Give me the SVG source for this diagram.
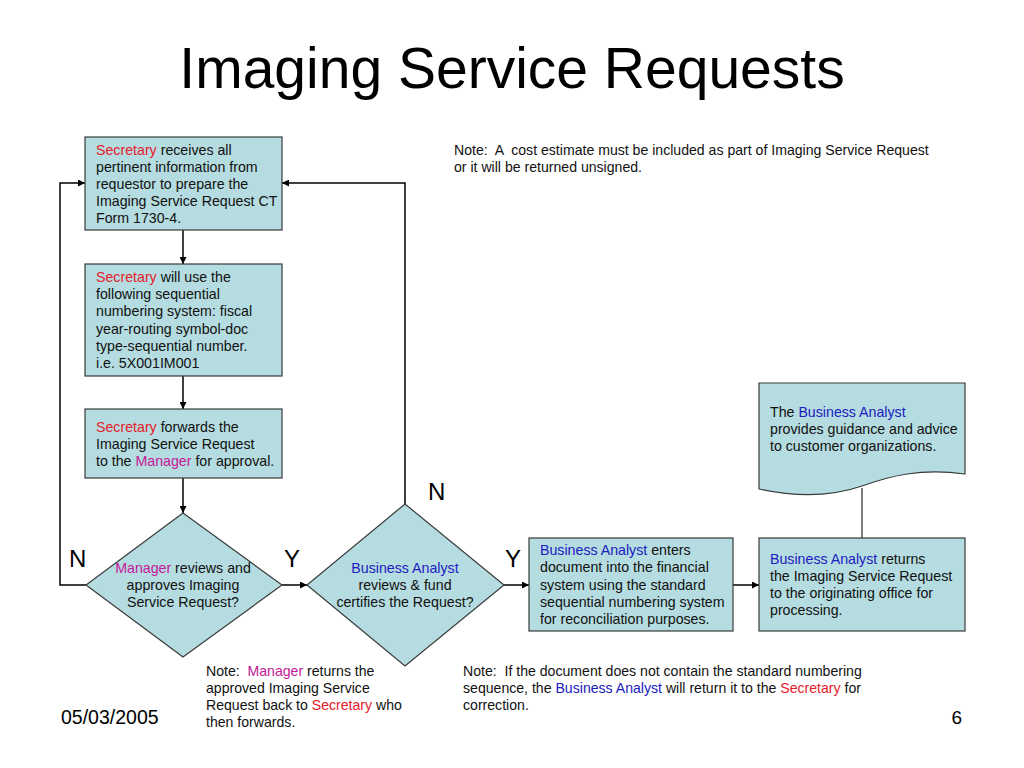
<svg xmlns="http://www.w3.org/2000/svg" width="1024" height="768" viewBox="0 0 1024 768" xml:space="preserve">
<style>
.n{fill:#B5DCE0;stroke:#3a3a3a;stroke-width:1.2}
.t{font-family:"Liberation Sans",Arial,sans-serif;font-size:14.2px;fill:#111}
.nt{font-family:"Liberation Sans",Arial,sans-serif;font-size:14.1px;fill:#111;white-space:pre}
.c{text-anchor:middle}
.s{fill:#E5202A}
.m{fill:#C4189A}
.b{fill:#2020C0}
.l{font-family:"Liberation Sans",Arial,sans-serif;font-size:24px;fill:#000}
.e{fill:none;stroke:#000;stroke-width:1.5}
</style>
<defs>
<marker id="ah" viewBox="0 0 10 10" refX="10" refY="5" markerWidth="7" markerHeight="7" orient="auto" markerUnits="userSpaceOnUse">
<path d="M0,0 L10,5 L0,10 Z" fill="#000"/>
</marker>
</defs>
<rect width="1024" height="768" fill="#fff"/>
<text x="512" y="88" text-anchor="middle" font-family="Liberation Sans,Arial,sans-serif" font-size="57" fill="#000">Imaging Service Requests</text>
<g id="connectors">
<line class="e" x1="183" y1="230" x2="183" y2="264" marker-end="url(#ah)"/>
<line class="e" x1="183" y1="376" x2="183" y2="409" marker-end="url(#ah)"/>
<line class="e" x1="183" y1="478" x2="183" y2="513" marker-end="url(#ah)"/>
<line class="e" x1="282" y1="585" x2="307" y2="585" marker-end="url(#ah)"/>
<line class="e" x1="504" y1="585" x2="529" y2="585" marker-end="url(#ah)"/>
<line class="e" x1="733" y1="585" x2="759" y2="585" marker-end="url(#ah)"/>
<polyline class="e" points="86,585 60,585 60,183 85,183" marker-end="url(#ah)"/>
<polyline class="e" points="405,504 405,183 282,183" marker-end="url(#ah)"/>
<line x1="862" y1="488" x2="862" y2="538" stroke="#555" stroke-width="1.5"/>
</g>
<g id="box1">
<rect class="n" x="85" y="137" width="197" height="93"/>
<text class="t" x="96" y="155"><tspan class="s">Secretary</tspan> receives all</text>
<text class="t" x="96" y="172">pertinent information from</text>
<text class="t" x="96" y="189">requestor to prepare the</text>
<text class="t" x="96" y="206">Imaging Service Request CT</text>
<text class="t" x="96" y="223">Form 1730-4.</text>
</g>
<g id="box2">
<rect class="n" x="85" y="264" width="197" height="112"/>
<text class="t" x="96" y="282"><tspan class="s">Secretary</tspan> will use the</text>
<text class="t" x="96" y="299">following sequential</text>
<text class="t" x="96" y="316">numbering system: fiscal</text>
<text class="t" x="96" y="334">year-routing symbol-doc</text>
<text class="t" x="96" y="351">type-sequential number.</text>
<text class="t" x="96" y="368">i.e. 5X001IM001</text>
</g>
<g id="box3">
<rect class="n" x="85" y="409" width="197" height="69"/>
<text class="t" x="96" y="432"><tspan class="s">Secretary</tspan> forwards the</text>
<text class="t" x="96" y="449">Imaging Service Request</text>
<text class="t" x="96" y="466">to the <tspan class="m">Manager</tspan> for approval.</text>
</g>
<g id="decision1">
<polygon class="n" points="183,513 282,585 183,657 86,585"/>
<text class="t c" x="183" y="573"><tspan class="m">Manager</tspan> reviews and</text>
<text class="t c" x="183" y="590">approves Imaging</text>
<text class="t c" x="183" y="607">Service Request?</text>
</g>
<g id="decision2">
<polygon class="n" points="405,504 504,585 405,666 307,585"/>
<text class="t c b" x="405" y="573">Business Analyst</text>
<text class="t c" x="405" y="590">reviews &amp; fund</text>
<text class="t c" x="405" y="607">certifies the Request?</text>
</g>
<g id="box4">
<rect class="n" x="529" y="538" width="204" height="93"/>
<text class="t" x="540" y="555"><tspan class="b">Business Analyst</tspan> enters</text>
<text class="t" x="540" y="572">document into the financial</text>
<text class="t" x="540" y="590">system using the standard</text>
<text class="t" x="540" y="607">sequential numbering system</text>
<text class="t" x="540" y="624">for reconciliation purposes.</text>
</g>
<g id="box5">
<rect class="n" x="759" y="538" width="206" height="93"/>
<text class="t" x="770" y="564"><tspan class="b">Business Analyst</tspan> returns</text>
<text class="t" x="770" y="581">the Imaging Service Request</text>
<text class="t" x="770" y="598">to the originating office for</text>
<text class="t" x="770" y="615">processing.</text>
</g>
<g id="doc">
<path class="n" d="M759,383 L965,383 L965,474 C920,468 890,476 862,486 C830,497 795,497 759,489 Z"/>
<text class="t" x="770" y="417">The <tspan class="b">Business Analyst</tspan></text>
<text class="t" x="770" y="434">provides guidance and advice</text>
<text class="t" x="770" y="451">to customer organizations.</text>
</g>
<g id="labels">
<text class="l" x="69" y="567">N</text>
<text class="l" x="284" y="567">Y</text>
<text class="l" x="428" y="500">N</text>
<text class="l" x="505" y="567">Y</text>
</g>
<g id="notes">
<text class="nt" x="454" y="155">Note:  A  cost estimate must be included as part of Imaging Service Request</text>
<text class="nt" x="454" y="172">or it will be returned unsigned.</text>
<text class="nt" x="206" y="676">Note:  <tspan class="m">Manager</tspan> returns the</text>
<text class="nt" x="206" y="693">approved Imaging Service</text>
<text class="nt" x="206" y="710">Request back to <tspan class="s">Secretary</tspan> who</text>
<text class="nt" x="206" y="727">then forwards.</text>
<text class="nt" x="463" y="676">Note:  If the document does not contain the standard numbering</text>
<text class="nt" x="463" y="693">sequence, the <tspan class="b">Business Analyst</tspan> will return it to the <tspan class="s">Secretary</tspan> for</text>
<text class="nt" x="463" y="710">correction.</text>
</g>
<text x="61" y="724" font-family="Liberation Sans,Arial,sans-serif" font-size="19.5" fill="#000">05/03/2005</text>
<text x="962" y="724" text-anchor="end" font-family="Liberation Sans,Arial,sans-serif" font-size="19" fill="#000">6</text>
</svg>
